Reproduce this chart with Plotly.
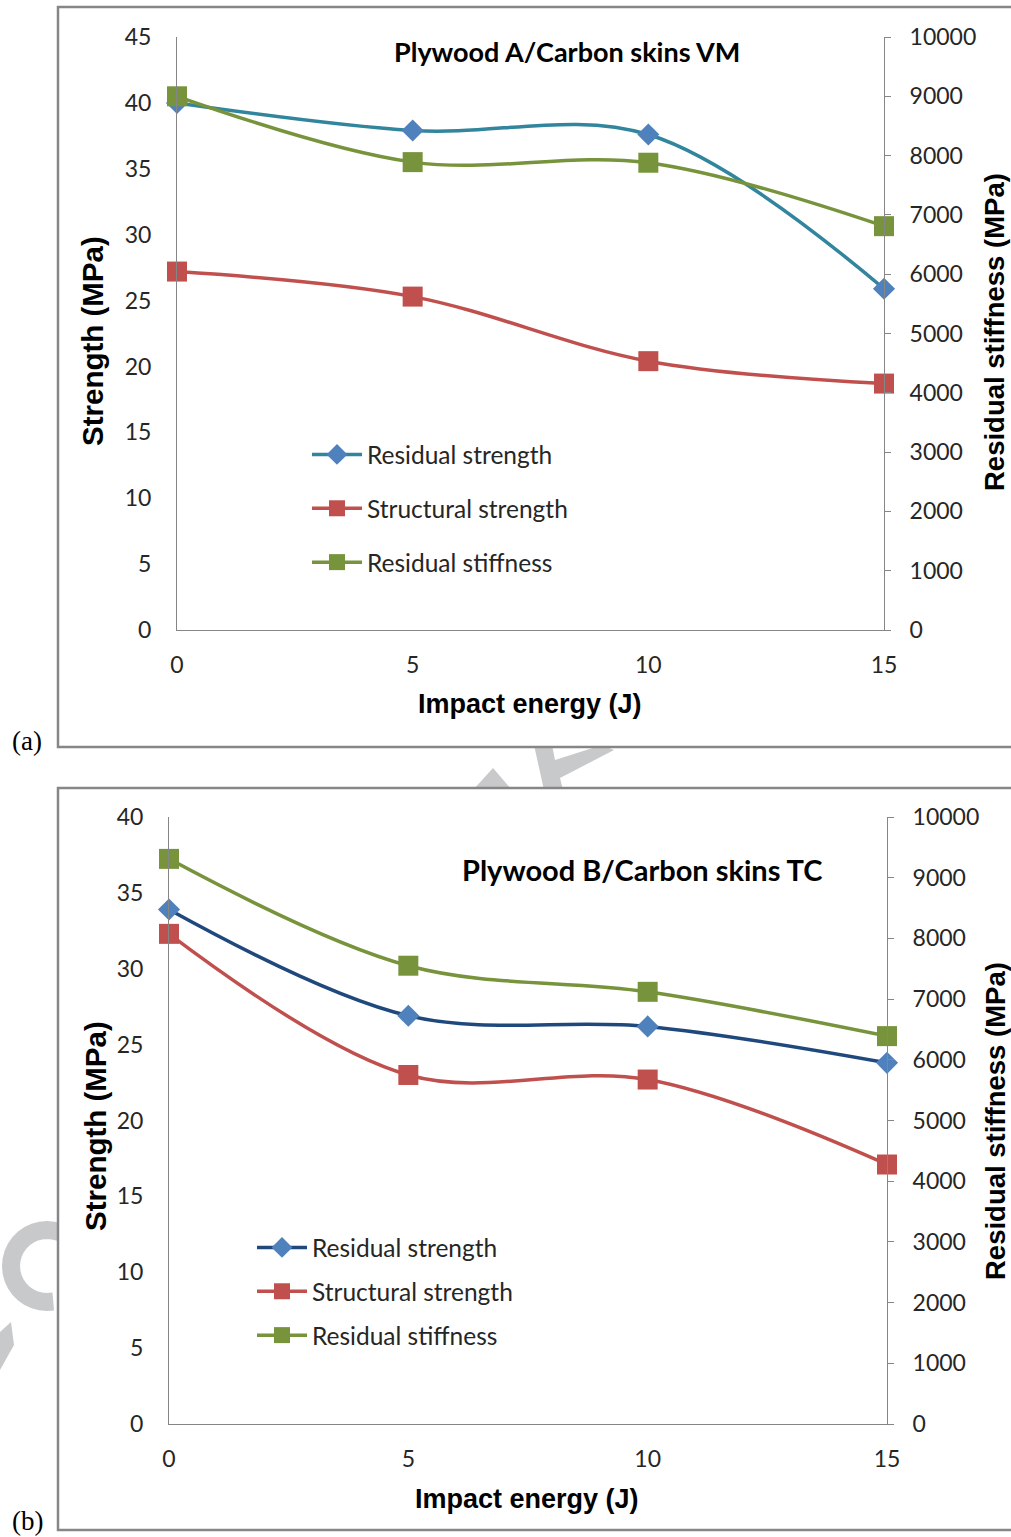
import math
import plotly.graph_objects as go

# impact energy (J)
energy = [0, 5, 10, 15]

# panel (a) Plywood A / Carbon skins VM
a_residual_strength = [40.0, 37.9, 37.6, 25.9]
a_structural_strength = [27.2, 25.3, 20.4, 18.7]
a_residual_stiffness = [9000, 7890, 7880, 6810]

# panel (b) Plywood B / Carbon skins TC
b_residual_strength = [33.9, 26.9, 26.2, 23.8]
b_structural_strength = [32.3, 23.0, 22.7, 17.1]
b_residual_stiffness = [9310, 7550, 7120, 6390]

W, H = 1011, 1537
CAL = "Lato, Carlito, sans-serif"
TICK_FONT = dict(family=CAL, size=23, color="#262626")
TITLE_H = dict(family="Liberation Sans, Arial, sans-serif", size=27, color="#000000")
TITLE_V = dict(family="Liberation Sans, Arial, sans-serif", size=29.5, color="#000000")
AXIS_COLOR = "#868686"
WATERMARK = "#C8C9CB"

BLUE_M = "#4F81BD"
TEAL = "#31859C"
NAVY = "#1F497D"
RED = "#C0504D"
GREEN = "#77933C"


def px(x):
    return x / W


def py(y):
    return 1 - y / H


def poly_path(pts, close=True):
    s = "M " + " L ".join(f"{px(x):.5f},{py(y):.5f}" for x, y in pts)
    return s + (" Z" if close else "")


fig = go.Figure()


def add_series(xa, ya, y, name, line_color, marker_color, symbol, size, legend):
    fig.add_trace(go.Scatter(
        x=energy, y=y, name=name, mode="lines+markers",
        xaxis=xa, yaxis=ya,
        line=dict(color=line_color, width=3.5, shape="spline", smoothing=1),
        marker=dict(color=marker_color, symbol=symbol, size=size, line=dict(width=0)),
        cliponaxis=False, legend=legend, legendgroup=legend + name,
    ))


# panel (a)
add_series("x", "y", a_residual_strength, "Residual strength", TEAL, BLUE_M, "diamond", 17, "legend")
add_series("x", "y", a_structural_strength, "Structural strength", RED, RED, "square", 20, "legend")
add_series("x", "y2", a_residual_stiffness, "Residual stiffness", GREEN, GREEN, "square", 20, "legend")
# panel (b)
add_series("x2", "y3", b_residual_strength, "Residual strength", NAVY, BLUE_M, "diamond", 17, "legend2")
add_series("x2", "y3", b_structural_strength, "Structural strength", RED, RED, "square", 20, "legend2")
add_series("x2", "y4", b_residual_stiffness, "Residual stiffness", GREEN, GREEN, "square", 20, "legend2")

common_x = dict(range=[0, 15], tickvals=[0, 5, 10, 15], showgrid=False, zeroline=False,
                showline=True, linecolor=AXIS_COLOR, linewidth=1, ticks="",
                tickfont=TICK_FONT, ticklabelstandoff=14, automargin=False)
common_left = dict(showgrid=False, zeroline=False, showline=True, linecolor=AXIS_COLOR,
                   linewidth=1, ticks="", tickfont=TICK_FONT, ticklabelstandoff=20,
                   automargin=False)
common_right = dict(showgrid=False, zeroline=False, showline=True, linecolor=AXIS_COLOR,
                    linewidth=1, ticks="outside", ticklen=6, tickcolor=AXIS_COLOR,
                    tickfont=TICK_FONT, ticklabelstandoff=14, side="right",
                    range=[0, 10000], dtick=1000, tickformat="d", automargin=False)

legend_font = dict(family=CAL, size=24.5, color="#262626")
fig.update_layout(
    width=W, height=H, margin=dict(l=0, r=0, t=0, b=0, autoexpand=False),
    paper_bgcolor="white", plot_bgcolor="rgba(0,0,0,0)",
    xaxis=dict(domain=[px(177), px(884)], anchor="y", **common_x),
    yaxis=dict(domain=[py(630), py(37)], anchor="x", range=[0, 45], dtick=5, **common_left),
    yaxis2=dict(overlaying="y", anchor="x", **common_right),
    xaxis2=dict(domain=[px(169), px(887)], anchor="y3", **common_x),
    yaxis3=dict(domain=[py(1424), py(817)], anchor="x2", range=[0, 40], dtick=5, **common_left),
    yaxis4=dict(overlaying="y3", anchor="x2", **common_right),
    legend=dict(x=px(307), y=py(432), xanchor="left", yanchor="top", font=legend_font,
                traceorder="grouped", tracegroupgap=19, bgcolor="rgba(0,0,0,0)",
                itemwidth=50),
    legend2=dict(x=px(252), y=py(1225), xanchor="left", yanchor="top", font=legend_font,
                 traceorder="grouped", tracegroupgap=9, bgcolor="rgba(0,0,0,0)",
                 itemwidth=50),
)

# pieces of the "accepted manuscript" watermark that show outside the panels
arc = [(47 + 36 * math.cos(math.radians(a)), 1266 + 36 * math.sin(math.radians(a)))
       for a in range(-70, -290, -10)]
fig.add_shape(type="path", xref="paper", yref="paper", path=poly_path(arc, close=False),
              line=dict(color=WATERMARK, width=18), layer="below")
watermark_polys = [
    [(473, 790), (493, 768), (512, 790)],
    [(534, 745), (552, 745), (555, 760), (602, 745), (614, 750), (560, 778), (563, 790), (544, 790)],
    [(0, 1332), (11, 1322), (14, 1345), (0, 1370)],
]
for pts in watermark_polys:
    fig.add_shape(type="path", xref="paper", yref="paper", path=poly_path(pts),
                  fillcolor=WATERMARK, line=dict(width=0), layer="below")

# panel frames (white fill hides the watermark behind them)
for top, bottom in [(7, 747), (788, 1530)]:
    fig.add_shape(type="rect", xref="paper", yref="paper",
                  x0=px(58), x1=1.02, y0=py(bottom), y1=py(top), fillcolor="white",
                  line=dict(color=AXIS_COLOR, width=2.5), layer="below")

bold_cal = dict(family=CAL, size=27, color="#000000")
serif = dict(family="Liberation Serif, Times New Roman, serif", size=27, color="#000000")
texts = [
    # (text, x, y, angle, font)
    ("<b>Plywood A/Carbon skins VM</b>", 567, 52, 0, bold_cal),
    ("<b>Plywood B/Carbon skins TC</b>", 642, 869, 0, dict(bold_cal, size=29)),
    ("<b>Strength (MPa)</b>", 92, 341, -90, TITLE_V),
    ("<b>Residual stiffness (MPa)</b>", 995, 332, -90, dict(TITLE_V, size=27.5)),
    ("<b>Impact energy (J)</b>", 530, 704, 0, TITLE_H),
    ("<b>Strength (MPa)</b>", 95, 1126, -90, TITLE_V),
    ("<b>Residual stiffness (MPa)</b>", 995, 1121, -90, dict(TITLE_V, size=27.5)),
    ("<b>Impact energy (J)</b>", 527, 1499, 0, TITLE_H),
    ("(a)", 27, 741, 0, serif),
    ("(b)", 27, 1521, 0, serif),
]
for text, x, y, ang, font in texts:
    fig.add_annotation(text=text, x=px(x), y=py(y), xref="paper", yref="paper",
                       showarrow=False, textangle=ang, font=font,
                       xanchor="center", yanchor="middle")

# drop the page's default body margin so the figure sits at the window origin
fig.write_html("out.html", config={"displayModeBar": False},
               post_script="document.body.style.margin='0px';")
